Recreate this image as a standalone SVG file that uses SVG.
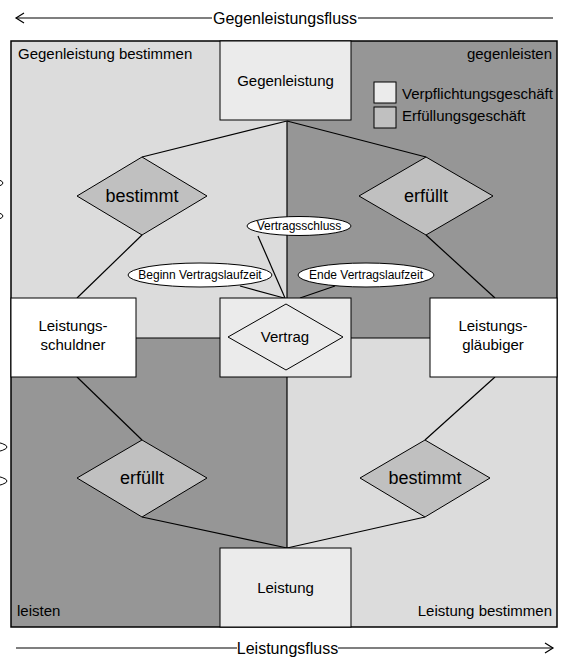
<svg xmlns="http://www.w3.org/2000/svg" width="562" height="657" viewBox="0 0 562 657">
<style>
text{font-family:"Liberation Sans",Arial,sans-serif;fill:#000}
.t15{font-size:15px}
.t16{font-size:16px}
.t18{font-size:18px}
.t12{font-size:12px}
.mid{text-anchor:middle}
.end{text-anchor:end}
.ln{stroke:#000;stroke-width:1.2;fill:none}
.box{stroke:#000;stroke-width:1}
.light{fill:#dcdcdc}
.dark{fill:#969696}
.pale{fill:#ebebeb}
.wh{fill:#fff}
.dia{fill:#c0c0c0;stroke:#000;stroke-width:1}
.ell{fill:#fff;stroke:#000;stroke-width:1}
</style>
<rect width="562" height="657" fill="#fff"/>
<g id="quadrants">
<rect x="11" y="41" width="276" height="297" class="light"/>
<rect x="287" y="41" width="270" height="297" class="dark"/>
<rect x="11" y="338" width="276" height="289" class="dark"/>
<rect x="287" y="338" width="270" height="289" class="light"/>
<line x1="11" y1="338" x2="557" y2="338" class="ln"/>
<line x1="287" y1="121" x2="287" y2="548" class="ln"/>
<rect x="11" y="41" width="546" height="586" fill="none" stroke="#000" stroke-width="1.5"/>
</g>
<g id="left-ellipses">
<ellipse cx="-60" cy="183" rx="63" ry="9" class="ell"/>
<ellipse cx="-60" cy="216" rx="63" ry="9" class="ell"/>
<ellipse cx="-56" cy="447" rx="63" ry="9" class="ell"/>
<ellipse cx="-56" cy="481" rx="63" ry="9" class="ell"/>
</g>
<g id="connectors">
<line x1="287" y1="121" x2="142" y2="157" class="ln"/>
<line x1="287" y1="121" x2="426" y2="157" class="ln"/>
<line x1="142" y1="235" x2="77" y2="298" class="ln"/>
<line x1="426" y1="235" x2="495" y2="298" class="ln"/>
<line x1="77" y1="377" x2="142" y2="440" class="ln"/>
<line x1="495" y1="377" x2="425" y2="440" class="ln"/>
<line x1="142" y1="517" x2="287" y2="548" class="ln"/>
<line x1="425" y1="517" x2="287" y2="548" class="ln"/>
<line x1="258" y1="236" x2="285" y2="298" class="ln"/>
<line x1="240" y1="286" x2="284" y2="298" class="ln"/>
<line x1="335" y1="286" x2="300" y2="298" class="ln"/>
</g>
<g id="labels">
<text x="18" y="59" class="t15">Gegenleistung bestimmen</text>
<text x="552" y="59" class="t15 end">gegenleisten</text>
<text x="17" y="616" class="t15">leisten</text>
<text x="552" y="616" class="t15 end">Leistung bestimmen</text>
</g>
<g id="legend">
<rect x="374" y="82" width="22" height="21" class="box pale"/>
<rect x="374" y="107" width="22" height="21" class="box" fill="#c0c0c0"/>
<text x="402" y="99" class="t15">Verpflichtungsgeschäft</text>
<text x="402" y="121" class="t15">Erfüllungsgeschäft</text>
</g>
<g id="gegenleistung">
<rect x="220" y="41" width="131" height="79" class="box pale"/>
<text x="285.5" y="86" class="t15 mid">Gegenleistung</text>
</g>
<g id="vertrag">
<rect x="220" y="298" width="131" height="79" class="box pale"/>
<polygon points="228,337 286,304 343,337 286,370" fill="#ebebeb" stroke="#000" stroke-width="1"/>
<text x="285" y="342" class="t15 mid">Vertrag</text>
</g>
<g id="leistung">
<rect x="220" y="548" width="131" height="79" class="box pale"/>
<text x="285.5" y="593" class="t15 mid">Leistung</text>
</g>
<g id="schuldner">
<rect x="11" y="298" width="125" height="79" class="box wh"/>
<text x="73" y="331" class="t15 mid">Leistungs-</text>
<text x="73" y="350" class="t15 mid">schuldner</text>
</g>
<g id="glaeubiger">
<rect x="430" y="298" width="127" height="79" class="box wh"/>
<text x="493" y="331" class="t15 mid">Leistungs-</text>
<text x="493" y="350" class="t15 mid">gläubiger</text>
</g>
<g id="bestimmt-top">
<polygon points="77,196 142,157 207,196 142,235" class="dia"/>
<text x="142" y="202" class="t18 mid">bestimmt</text>
</g>
<g id="erfuellt-top">
<polygon points="359,196 426,157 493,196 426,235" class="dia"/>
<text x="426" y="202" class="t18 mid">erfüllt</text>
</g>
<g id="erfuellt-bottom">
<polygon points="77,478 142,440 207,478 142,517" class="dia"/>
<text x="142" y="484" class="t18 mid">erfüllt</text>
</g>
<g id="bestimmt-bottom">
<polygon points="360,478 425,440 490,478 425,517" class="dia"/>
<text x="425" y="484" class="t18 mid">bestimmt</text>
</g>
<g id="vertragsschluss">
<ellipse cx="299" cy="226" rx="52" ry="9.5" class="ell"/>
<text x="299" y="230" class="t12 mid">Vertragsschluss</text>
</g>
<g id="beginn">
<ellipse cx="200" cy="275" rx="72" ry="12" class="ell"/>
<text x="200" y="279" class="t12 mid">Beginn Vertragslaufzeit</text>
</g>
<g id="ende">
<ellipse cx="366" cy="275" rx="68" ry="12" class="ell"/>
<text x="366" y="279" class="t12 mid">Ende Vertragslaufzeit</text>
</g>
<g id="flows">
<line x1="16" y1="18" x2="212" y2="18" class="ln"/>
<line x1="358" y1="18" x2="553" y2="18" class="ln"/>
<polyline points="24,13 16,18 24,23" class="ln"/>
<text x="285" y="24" class="t16 mid">Gegenleistungsfluss</text>
<line x1="16" y1="648" x2="237" y2="648" class="ln"/>
<line x1="338" y1="648" x2="553" y2="648" class="ln"/>
<polyline points="545,643 553,648 545,653" class="ln"/>
<text x="287.5" y="654" class="t16 mid">Leistungsfluss</text>
</g>
</svg>
